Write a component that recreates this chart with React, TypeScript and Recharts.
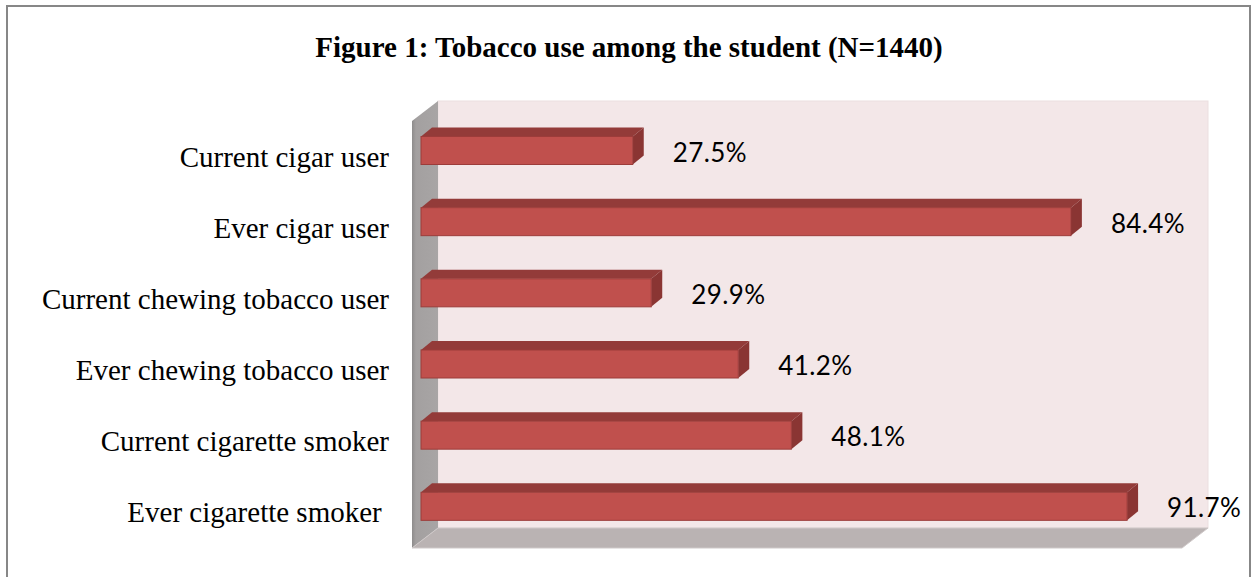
import { Bar, BarChart, Customized, LabelList, XAxis, YAxis } from 'recharts'

const categories = [
  'Current cigar user',
  'Ever cigar user',
  'Current chewing tobacco user',
  'Ever chewing tobacco user',
  'Current cigarette smoker',
  'Ever cigarette smoker ',
]
const percents = [27.5, 84.4, 29.9, 41.2, 48.1, 91.7]
const axisTicks = [0, 100]

const data = categories.map((name, i) => ({ name, value: percents[i] }))

const W = 1253
const H = 577
// front plane of the 3D box
const PLOT = { left: 412, right: 1182, top: 121, bottom: 548 }
// depth of the box (back wall offset)
const DX = 26
const DY = -20
// bar front face offset into the box, and bar's own depth
const BX = 9
const BY = -6.5
const BDX = 11
const BDY = -9

function Walls() {
  const { left, right, top, bottom } = PLOT
  return (
    <g>
      <rect x={7} y={6} width={W - 10} height={H} fill="none" stroke="#878787" strokeWidth={2} />
      <text
        x={629}
        y={57}
        textAnchor="middle"
        fontFamily="'Liberation Serif', 'Times New Roman', serif"
        fontWeight="bold"
        fontSize={29}
        fill="#000"
      >
        Figure 1: Tobacco use among the student (N=1440)
      </text>
      <defs>
        <linearGradient id="leftWall" x1="0" y1="0" x2="1" y2="0">
          <stop offset="0" stopColor="#8e8c8c" />
          <stop offset="0.15" stopColor="#a3a0a0" />
          <stop offset="1" stopColor="#a8a5a5" />
        </linearGradient>
      </defs>
      <rect
        x={left + DX}
        y={top + DY}
        width={right - left}
        height={bottom - top}
        fill="#f3e7e8"
        stroke="#ebdfe0"
      />
      <polygon
        points={`${left},${top} ${left + DX},${top + DY} ${left + DX},${bottom + DY} ${left},${bottom}`}
        fill="url(#leftWall)"
      />
      <polygon
        points={`${left},${bottom} ${left + DX},${bottom + DY} ${right + DX},${bottom + DY} ${right},${bottom}`}
        fill="#bab3b3"
        stroke="#cfc9c9"
        strokeWidth={1}
      />
    </g>
  )
}

function Bar3D(props: any) {
  const { x, y, width, height } = props
  const fx = x + BX
  const fy = y + BY
  const w = Math.max(width, 0)
  const h = height
  return (
    <g>
      <polygon
        points={`${fx},${fy} ${fx + BDX},${fy + BDY} ${fx + w + BDX},${fy + BDY} ${fx + w},${fy}`}
        fill="#933b39"
      />
      <polygon
        points={`${fx + w},${fy} ${fx + w + BDX},${fy + BDY} ${fx + w + BDX},${fy + h + BDY} ${fx + w},${fy + h}`}
        fill="#8a3533"
      />
      <rect x={fx} y={fy} width={w} height={h} fill="#c0504d" stroke="#9c3c3a" strokeWidth={1} />
    </g>
  )
}

function ValueLabel(props: any) {
  const { x, y, width, height, value } = props
  return (
    <text
      x={x + width + BX + 40}
      y={y + height / 2 + BY + 1}
      dominantBaseline="central"
      fontFamily="Lato, 'Open Sans', sans-serif"
      fontSize={26}
      letterSpacing={0.4}
      fill="#000"
    >
      {`${Number(value).toFixed(1)}%`}
    </text>
  )
}

function CategoryTick(props: any) {
  const { y, payload } = props
  return (
    <text
      x={389}
      y={y}
      dominantBaseline="central"
      textAnchor="end"
      fontFamily="'Liberation Serif', 'Times New Roman', serif"
      fontSize={29}
      fill="#000"
      style={{ whiteSpace: 'pre' }}
    >
      {payload.value}
    </text>
  )
}

export default function App() {
  return (
    <div style={{ position: 'absolute', left: 0, top: 0, width: W, height: H, background: '#fff' }}>
      <BarChart
        width={W}
        height={H}
        data={data}
        layout="vertical"
        margin={{ top: PLOT.top, bottom: H - PLOT.bottom, left: PLOT.left - 400, right: W - PLOT.right }}
      >
        <Customized component={Walls} />
        <XAxis type="number" domain={[axisTicks[0], axisTicks[1]]} ticks={axisTicks} hide />
        <YAxis
          type="category"
          dataKey="name"
          width={400}
          axisLine={false}
          tickLine={false}
          tick={<CategoryTick />}
          interval={0}
        />
        <Bar dataKey="value" barSize={28} shape={<Bar3D />} isAnimationActive={false}>
          <LabelList dataKey="value" content={<ValueLabel />} />
        </Bar>
      </BarChart>
    </div>
  )
}
